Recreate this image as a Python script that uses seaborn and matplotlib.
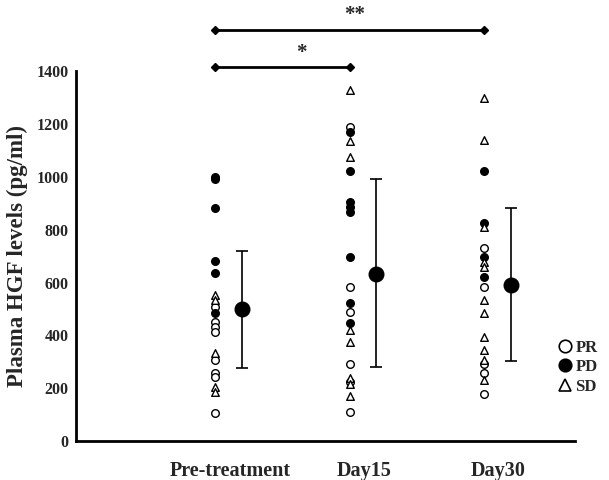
import numpy as np
import pandas as pd
import seaborn as sns
import matplotlib.pyplot as plt
from matplotlib.lines import Line2D

sns.set_style('white')
plt.rcParams['font.family'] = ['Liberation Serif', 'DejaVu Serif']
plt.rcParams['font.weight'] = 'bold'

# Data (pg/ml)
timepoints = ["Pre-treatment", "Day15", "Day30"]

pre_PR = [508, 451, 432, 413, 306, 256, 243, 105]
pre_PD = [1000, 990, 880, 680, 635, 483]
pre_SD = [552, 534, 334, 205, 187]

d15_PR = [1189, 584, 489, 291, 225, 111]
d15_PD = [1170, 1023, 906, 887, 868, 697, 521, 445]
d15_SD = [1328, 1136, 1073, 420, 376, 240, 215, 170]

d30_PR = [729, 584, 290, 256, 180]
d30_PD = [1023, 824, 697, 622]
d30_SD = [1297, 1139, 811, 678, 659, 534, 483, 392, 344, 305, 231]

means = [499, 631, 590]
sd_low = [276, 281, 303]
sd_high = [720, 990, 880]

# long-form table
rows = []
groups = {
    "Pre-treatment": {"PR": pre_PR, "PD": pre_PD, "SD": pre_SD},
    "Day15": {"PR": d15_PR, "PD": d15_PD, "SD": d15_SD},
    "Day30": {"PR": d30_PR, "PD": d30_PD, "SD": d30_SD},
}
for i, tp in enumerate(timepoints):
    for g, vals in groups[tp].items():
        for v in vals:
            rows.append({"time": tp, "pos": i, "group": g, "HGF": v})
df = pd.DataFrame(rows)

pt_off = -0.11
mean_off = 0.09
df["x"] = df["pos"] + pt_off

fig = plt.figure(figsize=(6.09, 4.8), dpi=100)
ax = fig.add_axes([0.1248, 0.081, 0.944 - 0.1248, 0.852 - 0.081])

styles = {"PR": ("o", "white"), "PD": ("o", "black"), "SD": ("^", "white")}
for g, (m, fc) in styles.items():
    sub = df[df["group"] == g]
    sns.scatterplot(data=sub, x="x", y="HGF", marker=m, s=30, color=fc,
                    edgecolor="black", linewidth=1.0, ax=ax, zorder=3)

# mean +/- SD
xm = np.arange(len(timepoints)) + mean_off
ax.errorbar(xm, means,
            yerr=[np.array(means) - np.array(sd_low), np.array(sd_high) - np.array(means)],
            fmt="o", color="black", ms=10.5, capsize=4.5, elinewidth=1.2, capthick=1.2, zorder=4)

ax.set_xlim(-1.15, 2.57)
ax.set_ylim(0, 1400)
ax.set_yticks(range(0, 1401, 200))
ax.set_xticks(range(len(timepoints)))
ax.set_xticklabels(timepoints, fontsize=14.5, fontweight='bold')
ax.tick_params(axis='y', length=0, pad=5.5, labelsize=11.5)
ax.tick_params(axis='x', length=0, pad=14)
ax.set_xlabel("")
ax.set_ylabel("Plasma HGF levels (pg/ml)", fontsize=16.5, fontweight='bold', labelpad=6)
for s in ["top", "right"]:
    ax.spines[s].set_visible(False)
for s in ["left", "bottom"]:
    ax.spines[s].set_linewidth(2)
    ax.spines[s].set_color("black")

# significance brackets
ax.plot([0 + pt_off, 2 + pt_off], [1555, 1555], color="black", lw=2, marker="D", ms=4, clip_on=False)
ax.text(0.93, 1575, "**", ha="center", va="bottom", fontsize=15)
ax.plot([0 + pt_off, 1 + pt_off], [1415, 1415], color="black", lw=2, marker="D", ms=4, clip_on=False)
ax.text(0.53, 1432, "*", ha="center", va="bottom", fontsize=15)

handles = [Line2D([], [], marker="o", ls="", mfc="white", mec="black", ms=9, mew=1.2),
           Line2D([], [], marker="o", ls="", mfc="black", mec="black", ms=9, mew=1.2),
           Line2D([], [], marker="^", ls="", mfc="white", mec="black", ms=9, mew=1.2)]
fig.legend(handles, ["PR", "PD", "SD"], loc="center left", bbox_to_anchor=(0.89, 0.235),
           frameon=False, handletextpad=0.1, labelspacing=0.2, handlelength=1.0,
           prop={"weight": "bold", "size": 12})

fig.savefig("out.png", dpi=100)
